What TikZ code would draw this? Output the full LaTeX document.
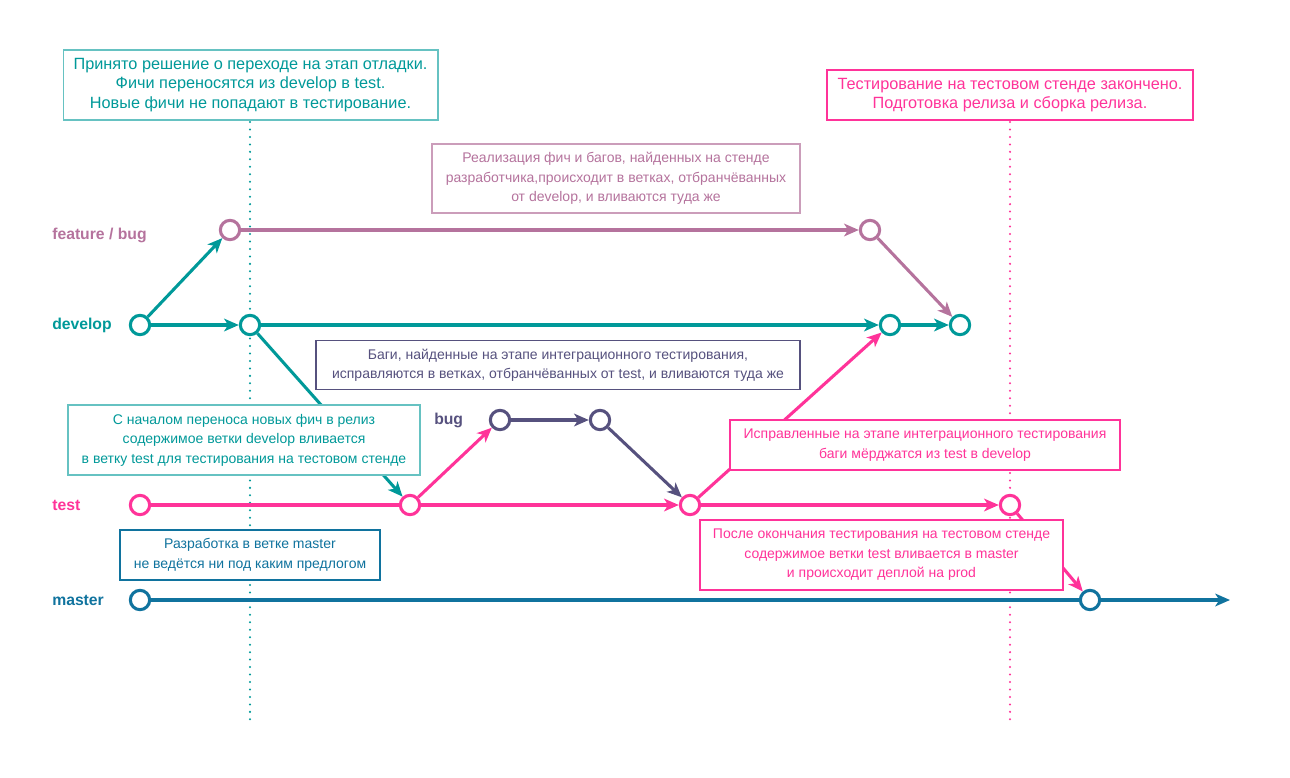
\documentclass[tikz,border=0pt]{standalone}
\usepackage{fontspec}
\setmainfont{Liberation Sans}
\usepackage{tikz}
\usetikzlibrary{positioning,arrows.meta}
\definecolor{tealc}{HTML}{009999}
\definecolor{mauvec}{HTML}{B5739D}
\definecolor{purplec}{HTML}{56517E}
\definecolor{pinkc}{HTML}{FF3399}
\definecolor{bluec}{HTML}{10739E}
\tikzset{
  cmt/.style={circle,fill=white,minimum size=14.5pt,inner sep=0pt,line width=2.3pt}, % commit
  br/.style={line width=2.3pt},
  arr/.style={br,-{Stealth[length=11pt,width=9.5pt,inset=3pt]}},
  lbl/.style={anchor=west,inner sep=0pt,font=\bfseries\fontsize{11.8}{13}\selectfont},
  tmark/.style={line width=1.7pt,dash pattern=on 0pt off 5.6pt,line cap=round}, % dotted time mark
  note/.style={draw,fill=white,line width=1pt,align=center,inner sep=0pt,
    font=\fontsize{10.5}{14.6}\selectfont},
  bignote/.style={note,font=\fontsize{12.2}{14.6}\selectfont},
}
\begin{document}
\begin{tikzpicture}[x=0.75pt,y=-0.75pt]
  \useasboundingbox (0,0) rectangle (1290,778);
  % dotted marks
  \draw[tmark,tealc] (250,122) -- (250,725);
  \draw[tmark,pinkc] (1010,122) -- (1010,725);
  % branch names
  \node[lbl,text=mauvec] (lfeat) at (52,235) {feature / bug};
  \node[lbl,text=tealc] (ldev) at (52,325) {develop};
  \node[lbl,text=purplec] (lbug) at (434,420) {bug};
  \node[lbl,text=pinkc] (ltest) at (52,505) {test};
  \node[lbl,text=bluec] (lmast) at (52,600) {master};
  % commits
  \node[cmt,draw=mauvec] (f1) at (230,230) {};
  \node[cmt,draw=mauvec] (f2) at (870,230) {};
  \node[cmt,draw=tealc] (d0) at (140,325) {};
  \node[cmt,draw=tealc] (d1) at (250,325) {};
  \node[cmt,draw=tealc] (d2) at (890,325) {};
  \node[cmt,draw=tealc] (d3) at (960,325) {};
  \node[cmt,draw=purplec] (b1) at (500,420) {};
  \node[cmt,draw=purplec] (b2) at (600,420) {};
  \node[cmt,draw=pinkc] (t0) at (140,505) {};
  \node[cmt,draw=pinkc] (t1) at (410,505) {};
  \node[cmt,draw=pinkc] (t2) at (690,505) {};
  \node[cmt,draw=pinkc] (t3) at (1010,505) {};
  \node[cmt,draw=bluec] (m0) at (140,600) {};
  \node[cmt,draw=bluec] (m1) at (1090,600) {};
  \coordinate (mend) at (1230,600);
  % develop
  \draw[arr,tealc] (d0) -- (f1);
  \draw[arr,tealc] (d0) -- (d1);
  \draw[arr,tealc] (d1) -- (d2);
  \draw[arr,tealc] (d2) -- (d3);
  \draw[arr,tealc] (d1) -- (t1);
  % feature / bug
  \draw[arr,mauvec] (f1) -- (f2);
  \draw[arr,mauvec] (f2) -- (d3);
  % test and bug
  \draw[br,pinkc] (t0) -- (t1);
  \draw[arr,pinkc] (t1) -- (b1);
  \draw[arr,pinkc] (t1) -- (t2);
  \draw[arr,purplec] (b1) -- (b2);
  \draw[arr,purplec] (b2) -- (t2);
  \draw[arr,pinkc] (t2) -- (d2);
  \draw[arr,pinkc] (t2) -- (t3);
  \draw[arr,pinkc] (t3) -- (m1);
  % master
  \draw[br,bluec] (m0) -- (m1);
  \draw[arr,bluec] (m1) -- (mend);
  % notes
  \node[bignote,draw=tealc!60,text=tealc,minimum width=281pt,minimum height=52.5pt]
    (nstart) at (250.5,85) {Принято решение о переходе на этап отладки.\\
    Фичи переносятся из develop в test.\\Новые фичи не попадают в тестирование.};
  \node[bignote,draw=pinkc,text=pinkc,minimum width=274.5pt,minimum height=37.5pt]
    (nend) at (1010,95) {Тестирование на тестовом стенде закончено.\\
    Подготовка релиза и сборка релиза.};
  \node[note,draw=mauvec!70,text=mauvec,minimum width=276pt,minimum height=51.75pt]
    (nfeat) at (616,178.5) {Реализация фич и багов, найденных на стенде\\
    разработчика,происходит в ветках, отбранчёванных\\от develop, и вливаются туда же};
  \node[note,draw=purplec,text=purplec,minimum width=363pt,minimum height=36.75pt]
    (nbug) at (558,365) {Баги, найденные на этапе интеграционного тестирования,\\
    исправляются в ветках, отбранчёванных от test, и вливаются туда же};
  \node[note,draw=tealc!60,text=tealc,minimum width=264pt,minimum height=52.5pt]
    (nmerge) at (244,440) {С началом переноса новых фич в релиз\\
    содержимое ветки develop вливается\\в ветку test для тестирования на тестовом стенде};
  \node[note,draw=pinkc,text=pinkc,minimum width=292.5pt,minimum height=37.5pt]
    (nfix) at (925,445) {Исправленные на этапе интеграционного тестирования\\
    баги мёрджатся из test в develop};
  \node[note,draw=pinkc,text=pinkc,minimum width=272.25pt,minimum height=52.5pt]
    (nprod) at (881.5,555) {После окончания тестирования на тестовом стенде\\
    содержимое ветки test вливается в master\\и происходит деплой на prod};
  \node[note,draw=bluec,text=bluec,minimum width=195pt,minimum height=37.5pt]
    (nmast) at (250,555) {Разработка в ветке master\\не ведётся ни под каким предлогом};
\end{tikzpicture}
\end{document}
